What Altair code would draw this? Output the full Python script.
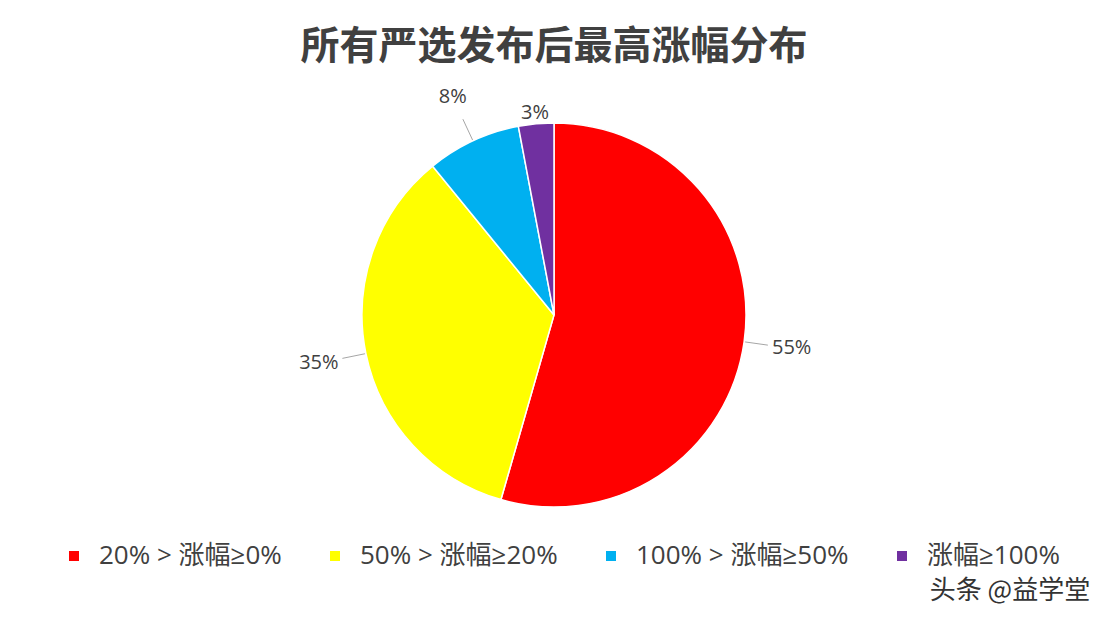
import altair as alt
import pandas as pd

categories = ["20% > 涨幅≥0%", "50% > 涨幅≥20%", "100% > 涨幅≥50%", "涨幅≥100%"]
shares = [55, 35, 8, 3]
colors = ["#FF0000", "#FFFF00", "#00B0F0", "#7030A0"]
title_text = "所有严选发布后最高涨幅分布"
watermark = ["头条 @益学堂"]

W, H = 1092, 488
CX, CY = W / 2, H / 2
R = 192
FONT = "Noto Sans CJK SC"
LFONT = "Open Sans, Noto Sans CJK SC"

df = pd.DataFrame({"cat": categories, "share": shares, "idx": list(range(len(categories)))})

base = (
    alt.Chart(df)
    .transform_joinaggregate(total="sum(share)")
    .transform_window(cum="sum(share)", sort=[alt.SortField("idx")], frame=[None, 0])
    .transform_calculate(
        a0="(datum.cum - datum.share) / datum.total * 2 * PI",
        a1="datum.cum / datum.total * 2 * PI",
        mid="(datum.cum - datum.share / 2) / datum.total * 2 * PI",
        label="datum.share + '%'",
    )
    .transform_calculate(
        lr="datum.share < 5 ? (datum.share < 4 ? 203 : 246) : 240",
    )
    .transform_calculate(
        lx=f"{CX} + datum.lr * sin(datum.mid)",
        ly=f"{CY} - datum.lr * cos(datum.mid)",
        l0x=f"{CX} + {R + 1} * sin(datum.mid)",
        l0y=f"{CY} - {R + 1} * cos(datum.mid)",
        l1x=f"{CX} + (datum.lr - 24) * sin(datum.mid)",
        l1y=f"{CY} - (datum.lr - 24) * cos(datum.mid)",
    )
)

arcs = base.mark_arc(radius=R, stroke="white", strokeWidth=1.5).encode(
    theta=alt.Theta("a0:Q", scale=None),
    theta2=alt.Theta2("a1:Q"),
    color=alt.Color(
        "cat:N",
        scale=alt.Scale(domain=categories, range=colors),
        legend=alt.Legend(
            title=None,
            orient="none",
            legendX=53,
            legendY=472,
            direction="horizontal",
            columns=4,
            symbolType="square",
            symbolSize=100,
            symbolStrokeWidth=0,
            labelFontSize=26,
            labelFont=LFONT,
            labelColor="#404040",
            labelLimit=0,
            labelOffset=12,
            columnPadding=40,
            padding=0,
        ),
    ),
    order=alt.Order("idx:Q"),
)

leaders = base.transform_filter("datum.share >= 4").mark_rule(color="#a6a6a6", strokeWidth=1).encode(
    x=alt.X("l0x:Q", scale=None),
    y=alt.Y("l0y:Q", scale=None),
    x2="l1x:Q",
    y2="l1y:Q",
)

labels = base.mark_text(fontSize=20, font=LFONT, color="#404040").encode(
    x=alt.X("lx:Q", scale=None),
    y=alt.Y("ly:Q", scale=None),
    text="label:N",
)

wm = alt.Chart(pd.DataFrame({"t": watermark})).mark_text(
    fontSize=26, font=FONT, color="#333333", align="center"
).encode(x=alt.value(1002), y=alt.value(520), text="t:N")

chart = (
    alt.layer(arcs, leaders, labels, wm)
    .properties(
        width=W,
        height=H,
        padding={"top": 20, "left": 0, "right": 0, "bottom": 20},
        title=alt.TitleParams(
            title_text,
            fontSize=39,
            font=FONT,
            fontWeight="bold",
            color="#404040",
            anchor="middle",
            offset=4,
        ),
    )
    .configure_view(stroke=None)
)

chart.save("out.html", embed_options={"renderer": "svg", "actions": False})
